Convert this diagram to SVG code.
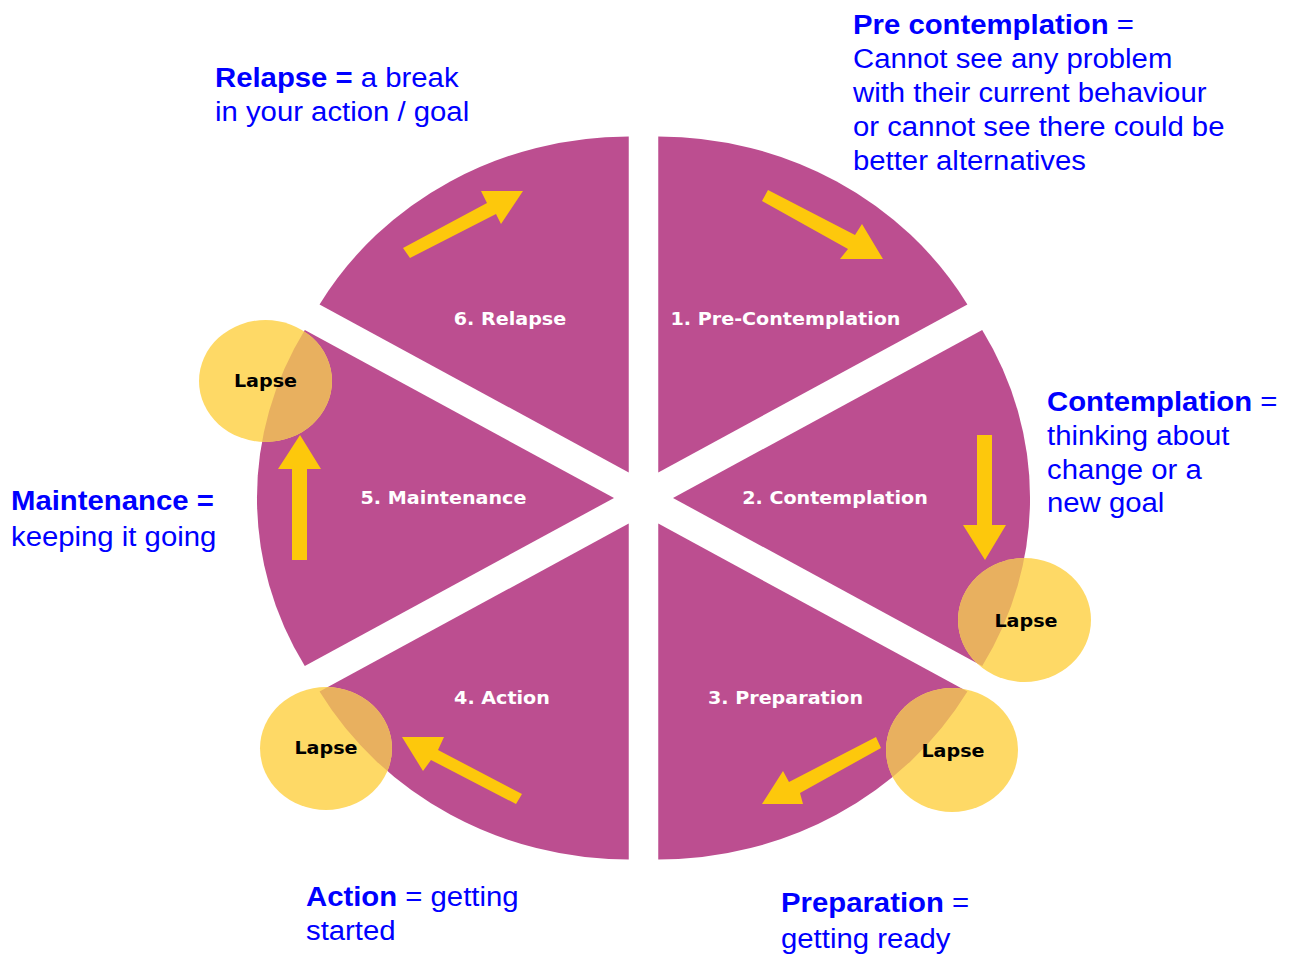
<svg xmlns="http://www.w3.org/2000/svg" xmlns:xlink="http://www.w3.org/1999/xlink" width="1292" height="954" viewBox="0 0 1292 954">
<style>
.sector{fill:#BC4E90}
.slabel{font-family:"DejaVu Sans",Verdana,sans-serif;font-weight:bold;font-size:18px;fill:#FFFFFF;text-anchor:middle}
.lapse{fill:#FED966}
.lapse-over{fill:#E8B05F}
.ltext{font-family:"DejaVu Sans",Verdana,sans-serif;font-weight:bold;font-size:18px;fill:#000000;text-anchor:middle}
.arrow{fill:#FDC80C}
.blue{font-family:"Liberation Sans",Arial,sans-serif;font-size:28px;fill:#0000FF}
.b{font-weight:bold}
</style>
<defs>
<path id="p1" d="M658.25 472.45 L658.25 136.45 A357 336 0 0 1 967.4 304.45 Z"/>
<path id="p2" d="M673 498 L982.2 330 A357 336 0 0 1 982.2 666 Z"/>
<path id="p3" d="M658.25 523.55 L967.4 691.55 A357 336 0 0 1 658.25 859.55 Z"/>
<path id="p4" d="M628.75 523.55 L628.75 859.55 A357 336 0 0 1 319.55 691.55 Z"/>
<path id="p5" d="M614 498 L304.8 666 A357 336 0 0 1 304.8 330 Z"/>
<path id="p6" d="M628.75 472.45 L319.55 304.45 A357 336 0 0 1 628.75 136.45 Z"/>
<clipPath id="pie">
<use xlink:href="#p1"/><use xlink:href="#p2"/><use xlink:href="#p3"/>
<use xlink:href="#p4"/><use xlink:href="#p5"/><use xlink:href="#p6"/>
</clipPath>
</defs>
<rect width="1292" height="954" fill="#FFFFFF"/>

<g id="stage1">
<use xlink:href="#p1" class="sector"/>
<text class="slabel" x="785.5" y="325" transform="matrix(1.063 0 0 1 -49.49 0)">1. Pre-Contemplation</text>
</g>
<g id="stage2">
<use xlink:href="#p2" class="sector"/>
<text class="slabel" x="835" y="504" transform="matrix(1.063 0 0 1 -52.61 0)">2. Contemplation</text>
</g>
<g id="stage3">
<use xlink:href="#p3" class="sector"/>
<text class="slabel" x="785.5" y="704" transform="matrix(1.063 0 0 1 -49.49 0)">3. Preparation</text>
</g>
<g id="stage4">
<use xlink:href="#p4" class="sector"/>
<text class="slabel" x="502" y="704" transform="matrix(1.063 0 0 1 -31.63 0)">4. Action</text>
</g>
<g id="stage5">
<use xlink:href="#p5" class="sector"/>
<text class="slabel" x="443.5" y="504" transform="matrix(1.063 0 0 1 -27.94 0)">5. Maintenance</text>
</g>
<g id="stage6">
<use xlink:href="#p6" class="sector"/>
<text class="slabel" x="510" y="325" transform="matrix(1.063 0 0 1 -32.13 0)">6. Relapse</text>
</g>

<g id="connectors">
<polygon class="arrow" points="403,248 487,203 481,191 523,191 501,224 496,214 410,258"/>
<polygon class="arrow" points="768,190 855,235 862,224 883,259 840,259 848,249 762,201"/>
<polygon class="arrow" points="977,435 992,435 992,525 1006,525 985,560 963,525 977,525"/>
<polygon class="arrow" points="876,737 881,748 800,793 803,804 762,804 783,771 789,782"/>
<polygon class="arrow" points="402,737 444,737 438,750 522,794 516,804 431,760 423,771"/>
<polygon class="arrow" points="300,435 321,469 307,469 307,560 292,560 292,469 278,469"/>
</g>

<g id="lapse1">
<ellipse class="lapse" cx="265.5" cy="381" rx="66.5" ry="61"/>
<ellipse class="lapse-over" cx="265.5" cy="381" rx="66.5" ry="61" clip-path="url(#pie)"/>
<text class="ltext" x="265.5" y="387.5" transform="matrix(1.063 0 0 1 -16.73 0)">Lapse</text>
</g>
<g id="lapse2">
<ellipse class="lapse" cx="1024.5" cy="620" rx="66.5" ry="62"/>
<ellipse class="lapse-over" cx="1024.5" cy="620" rx="66.5" ry="62" clip-path="url(#pie)"/>
<text class="ltext" x="1026" y="627.5" transform="matrix(1.063 0 0 1 -64.64 0)">Lapse</text>
</g>
<g id="lapse3">
<ellipse class="lapse" cx="952" cy="750" rx="66" ry="62"/>
<ellipse class="lapse-over" cx="952" cy="750" rx="66" ry="62" clip-path="url(#pie)"/>
<text class="ltext" x="953" y="757.5" transform="matrix(1.063 0 0 1 -60.04 0)">Lapse</text>
</g>
<g id="lapse4">
<ellipse class="lapse" cx="326" cy="748.5" rx="66" ry="61.5"/>
<ellipse class="lapse-over" cx="326" cy="748.5" rx="66" ry="61.5" clip-path="url(#pie)"/>
<text class="ltext" x="326" y="754.5" transform="matrix(1.063 0 0 1 -20.54 0)">Lapse</text>
</g>

<g id="note-precontemplation" transform="matrix(1.047 0 0 1 -40.09 0)">
<text class="blue" x="853" y="34"><tspan class="b">Pre contemplation</tspan> =</text>
<text class="blue" x="853" y="68">Cannot see any problem</text>
<text class="blue" x="853" y="102">with their current behaviour</text>
<text class="blue" x="853" y="136">or cannot see there could be</text>
<text class="blue" x="853" y="170">better alternatives</text>
</g>
<g id="note-relapse" transform="matrix(1.047 0 0 1 -10.11 0)">
<text class="blue" x="215" y="87"><tspan class="b">Relapse =</tspan> a break</text>
<text class="blue" x="215" y="121">in your action / goal</text>
</g>
<g id="note-contemplation" transform="matrix(1.047 0 0 1 -49.21 0)">
<text class="blue" x="1047" y="411"><tspan class="b">Contemplation</tspan> =</text>
<text class="blue" x="1047" y="445">thinking about</text>
<text class="blue" x="1047" y="479">change or a</text>
<text class="blue" x="1047" y="512">new goal</text>
</g>
<g id="note-maintenance" transform="matrix(1.047 0 0 1 -0.52 0)">
<text class="blue" x="11" y="510"><tspan class="b">Maintenance =</tspan></text>
<text class="blue" x="11" y="546">keeping it going</text>
</g>
<g id="note-action" transform="matrix(1.047 0 0 1 -14.38 0)">
<text class="blue" x="306" y="906"><tspan class="b">Action</tspan> = getting</text>
<text class="blue" x="306" y="940">started</text>
</g>
<g id="note-preparation" transform="matrix(1.047 0 0 1 -36.71 0)">
<text class="blue" x="781" y="912"><tspan class="b">Preparation</tspan> =</text>
<text class="blue" x="781" y="948">getting ready</text>
</g>
</svg>
